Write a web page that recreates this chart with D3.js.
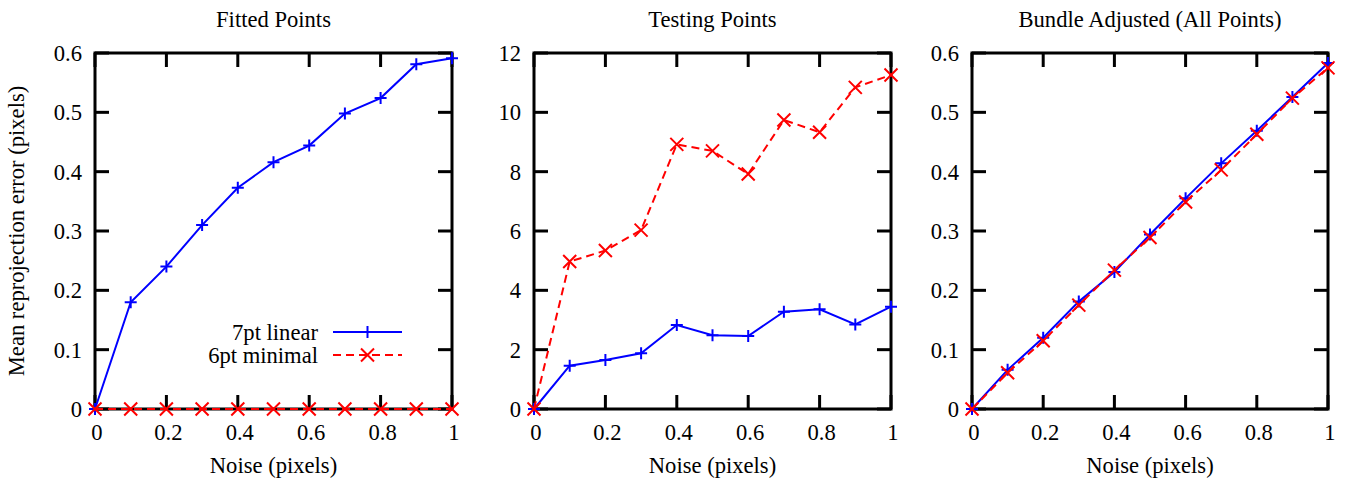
<!DOCTYPE html>
<html>
<head>
<meta charset="utf-8">
<script src="https://cdn.jsdelivr.net/npm/d3@7"></script>
<style>
  html, body { margin: 0; padding: 0; background: #fff; }
  svg { display: block; }
</style>
</head>
<body>
<svg id="chart" width="1355" height="481"></svg>
<script>
// Noise levels (pixels) shared by every panel
const noise = [0, 0.1, 0.2, 0.3, 0.4, 0.5, 0.6, 0.7, 0.8, 0.9, 1.0];
const xTicks = [0, 0.2, 0.4, 0.6, 0.8, 1];

// Mean reprojection error on fitted points
const fitted7pt = [0, 0.18, 0.24, 0.31, 0.373, 0.416, 0.444, 0.498, 0.524, 0.581, 0.591];
const fitted6pt = [0, 0, 0, 0, 0, 0, 0, 0, 0, 0, 0];

// Mean reprojection error on testing points
const testing7pt = [0, 1.46, 1.65, 1.88, 2.83, 2.49, 2.46, 3.28, 3.36, 2.85, 3.45];
const testing6pt = [0, 4.97, 5.34, 6.03, 8.92, 8.70, 7.92, 9.74, 9.33, 10.84, 11.26];

// Mean reprojection error after bundle adjustment (all points)
const bundle7pt = [0, 0.066, 0.120, 0.181, 0.231, 0.294, 0.355, 0.414, 0.469, 0.526, 0.583];
const bundle6pt = [0, 0.061, 0.115, 0.175, 0.234, 0.289, 0.349, 0.403, 0.463, 0.524, 0.575];

const yTicksSmall = [0, 0.1, 0.2, 0.3, 0.4, 0.5, 0.6];
const yTicksLarge = [0, 2, 4, 6, 8, 10, 12];

const seriesNames = ["7pt linear", "6pt minimal"];
const BLUE = "#0000ff", RED = "#ff0000";
const FONT = "'Liberation Serif', Tinos, 'Times New Roman', serif";
const FONT_SIZE = "22.6px";

const svg = d3.select("#chart");
const plotTop = 53, plotBottom = 409, tickLen = 14;

const fmtX = d => (d === 0 || d === 1) ? String(d) : d3.format(".1f")(d);
const fmtSmall = d => d === 0 ? "0" : d3.format(".1f")(d);
const fmtLarge = d => String(d);

function plusPath(s) { return `M${-s},0H${s}M0,${-s}V${s}`; }
function crossPath(s) { return `M${-s},${-s}L${s},${s}M${-s},${s}L${s},${-s}`; }

function label(g, x, y, anchor, str) {
  return g.append("text").attr("x", x).attr("y", y).attr("text-anchor", anchor)
    .attr("fill", "#000").style("font-family", FONT).style("font-size", FONT_SIZE).text(str);
}

function panel(opts) {
  const { left, right, yMax, yTicks, yFmt, title, s7, s6, yLabel, legend } = opts;
  const x = d3.scaleLinear().domain([0, 1]).range([left, right]);
  const y = d3.scaleLinear().domain([0, yMax]).range([plotBottom, plotTop]);
  const g = svg.append("g");

  // title
  label(g, (left + right) / 2, 27, "middle", title);

  // inward tick marks on all four sides
  const tickG = g.append("g").attr("stroke", "#000").attr("stroke-width", 3);
  xTicks.forEach(t => {
    tickG.append("line").attr("x1", x(t)).attr("x2", x(t)).attr("y1", plotBottom).attr("y2", plotBottom - tickLen);
    tickG.append("line").attr("x1", x(t)).attr("x2", x(t)).attr("y1", plotTop).attr("y2", plotTop + tickLen);
  });
  yTicks.forEach(t => {
    tickG.append("line").attr("x1", left).attr("x2", left + tickLen).attr("y1", y(t)).attr("y2", y(t));
    tickG.append("line").attr("x1", right).attr("x2", right - tickLen).attr("y1", y(t)).attr("y2", y(t));
  });

  // tick labels
  xTicks.forEach(t => label(g, x(t) + 2, 440, "middle", fmtX(t)));
  yTicks.forEach(t => label(g, left - 13, y(t) + 8, "end", yFmt(t)));

  // frame
  g.append("rect").attr("x", left).attr("y", plotTop).attr("width", right - left).attr("height", plotBottom - plotTop)
    .attr("fill", "none").attr("stroke", "#000").attr("stroke-width", 3);

  // axis labels
  label(g, (left + right) / 2, 473, "middle", "Noise (pixels)");
  if (yLabel) {
    label(g, 0, 0, "middle", yLabel)
      .attr("transform", `translate(24,${(plotTop + plotBottom) / 2}) rotate(-90)`);
  }

  const line = d3.line().x((d, i) => x(noise[i])).y(d => y(d));

  // 7pt linear: solid blue with plus markers
  g.append("path").datum(s7).attr("d", line).attr("fill", "none")
    .attr("stroke", BLUE).attr("stroke-width", 2);
  g.selectAll(".p7").data(s7).enter().append("path")
    .attr("transform", (d, i) => `translate(${x(noise[i])},${y(d)})`)
    .attr("d", plusPath(6)).attr("stroke", BLUE).attr("stroke-width", 2).attr("fill", "none");

  // 6pt minimal: dashed red with cross markers
  g.append("path").datum(s6).attr("d", line).attr("fill", "none")
    .attr("stroke", RED).attr("stroke-width", 2).attr("stroke-dasharray", "8,5");
  g.selectAll(".p6").data(s6).enter().append("path")
    .attr("transform", (d, i) => `translate(${x(noise[i])},${y(d)})`)
    .attr("d", crossPath(6.5)).attr("stroke", RED).attr("stroke-width", 2).attr("fill", "none");

  if (legend) {
    const lx = 318, l1 = 333, l2 = 402, rows = [332, 355];
    const styles = [
      { c: BLUE, dash: null, m: plusPath(6) },
      { c: RED, dash: "8,5", m: crossPath(6.5) }
    ];
    seriesNames.forEach((name, i) => {
      label(g, lx, rows[i] + 8, "end", name);
      g.append("line").attr("x1", l1).attr("x2", l2).attr("y1", rows[i]).attr("y2", rows[i])
        .attr("stroke", styles[i].c).attr("stroke-width", 2).attr("stroke-dasharray", styles[i].dash);
      g.append("path").attr("transform", `translate(${(l1 + l2) / 2},${rows[i]})`)
        .attr("d", styles[i].m).attr("stroke", styles[i].c).attr("stroke-width", 2).attr("fill", "none");
    });
  }
}

panel({ left: 95, right: 452, yMax: 0.6, yTicks: yTicksSmall, yFmt: fmtSmall, title: "Fitted Points",
  s7: fitted7pt, s6: fitted6pt, yLabel: "Mean reprojection error (pixels)", legend: true });
panel({ left: 534, right: 891, yMax: 12, yTicks: yTicksLarge, yFmt: fmtLarge, title: "Testing Points",
  s7: testing7pt, s6: testing6pt });
panel({ left: 972, right: 1328, yMax: 0.6, yTicks: yTicksSmall, yFmt: fmtSmall, title: "Bundle Adjusted (All Points)",
  s7: bundle7pt, s6: bundle6pt });
</script>
</body>
</html>
